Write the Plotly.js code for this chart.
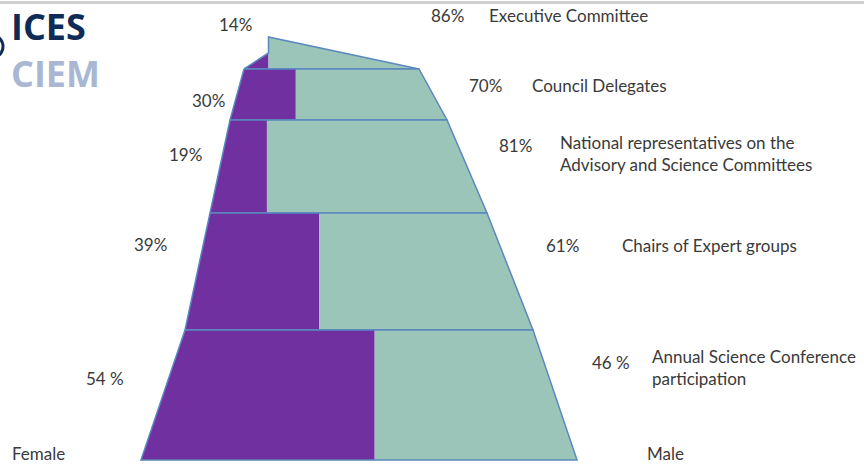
<!DOCTYPE html>
<html><head><meta charset="utf-8">
<script src="https://cdn.plot.ly/plotly-3.0.1.min.js"></script>
<style>html,body{margin:0;padding:0;background:#fff}#chart{width:864px;height:473px}</style>
</head><body><div id="chart"></div>
<script>
// ---- data ----
const categories = ['Executive Committee','Council Delegates','National representatives on the<br>Advisory and Science Committees','Chairs of Expert groups','Annual Science Conference<br>participation'];
const femalePct = [14, 30, 19, 39, 54];
const malePct = [86, 70, 81, 61, 46];
const femaleLabels = ['14%', '30%', '19%', '39%', '54 %'];
const maleLabels = ['86%', '70%', '81%', '61%', '46 %'];
const seriesNames = ['Female', 'Male'];

// ---- layout geometry (pixel-space axes) ----
const levelY = [69, 120, 213, 330, 460];      // band bottom boundaries
const leftX  = [244, 230, 210, 185, 141];     // outline left edge at each level
const rightX = [419, 447, 487, 533, 577];     // outline right edge at each level
const apexY = 37, apexLeftY = 53;
const femaleLblPos = [[235,24],[208,100],[185,154],[150,244],[105,378]];
const maleLblPos = [[447,15],[485,85],[515,145],[562,245],[611,362]];
const catLblPos = [[487,15],[530,85],[558,153],[620,245],[650,367]];

const PURPLE = '#7030A0', TEAL = '#9CC5B9', EDGE = '#5A88BE', TXT = '#3a3a3a';
const traces = [];
const annotations = [];
const FONT = 'Lato, "Open Sans", sans-serif';
const FS = 17;

// top band (tip)
{
  const L = leftX[0], R = rightX[0], y = levelY[0];
  const sx = L + femalePct[0] / 100 * (R - L);
  traces.push({x:[L,sx,sx,L], y:[y,apexLeftY,y,y], fill:'toself', fillcolor:PURPLE, mode:'lines', line:{width:0}, hoverinfo:'skip', name:seriesNames[0]});
  traces.push({x:[sx,sx,R,sx], y:[y,apexY,y,y], fill:'toself', fillcolor:TEAL, mode:'lines', line:{width:0}, hoverinfo:'skip', name:seriesNames[1]});
  traces.push({x:[L,sx,sx,R,L], y:[y,apexLeftY,apexY,y,y], mode:'lines', line:{color:EDGE,width:1.5}, hoverinfo:'skip'});
}
for (let i = 1; i < categories.length; i++) {
  const yt = levelY[i-1], yb = levelY[i];
  const lt = leftX[i-1], lb = leftX[i], rt = rightX[i-1], rb = rightX[i];
  const wMid = ((rt + rb) - (lt + lb)) / 2, lMid = (lt + lb) / 2;
  const sx = lMid + femalePct[i] / 100 * wMid;
  traces.push({x:[lt,sx,sx,lb,lt], y:[yt,yt,yb,yb,yt], fill:'toself', fillcolor:PURPLE, mode:'lines', line:{width:0}, hoverinfo:'skip'});
  traces.push({x:[sx,rt,rb,sx,sx], y:[yt,yt,yb,yb,yt], fill:'toself', fillcolor:TEAL, mode:'lines', line:{width:0}, hoverinfo:'skip'});
  traces.push({x:[lt,rt,rb,lb,lt], y:[yt,yt,yb,yb,yt], mode:'lines', line:{color:EDGE,width:1.5}, hoverinfo:'skip'});
}

for (let i = 0; i < categories.length; i++) {
  annotations.push({x:femaleLblPos[i][0], y:femaleLblPos[i][1], text:femaleLabels[i], showarrow:false, xanchor:'center', yanchor:'middle', font:{family:FONT,size:FS,color:TXT}});
  annotations.push({x:maleLblPos[i][0], y:maleLblPos[i][1], text:maleLabels[i], showarrow:false, xanchor:'center', yanchor:'middle', font:{family:FONT,size:FS,color:TXT}});
  annotations.push({x:catLblPos[i][0], y:catLblPos[i][1], text:categories[i], showarrow:false, xanchor:'left', yanchor:'middle', align:'left', font:{family:FONT,size:FS,color:TXT}});
}
annotations.push({x:10, y:453, text:seriesNames[0], showarrow:false, xanchor:'left', yanchor:'middle', font:{family:FONT,size:FS,color:TXT}});
annotations.push({x:645, y:453, text:seriesNames[1], showarrow:false, xanchor:'left', yanchor:'middle', font:{family:FONT,size:FS,color:TXT}});
// logo (single text block, two colours)
annotations.push({x:9, y:50, text:'<b><span style="color:#0E2C57">ICES</span><br><span style="color:#A9B7D2">CIEM</span></b>', showarrow:false, xanchor:'left', yanchor:'middle', align:'left', font:{family:'"Open Sans", sans-serif',size:36,color:'#0E2C57'}});

const layout = {
  width:864, height:473, margin:{l:0,r:0,t:0,b:0},
  paper_bgcolor:'#fff', plot_bgcolor:'#fff', showlegend:false,
  xaxis:{range:[0,864], visible:false, fixedrange:true},
  yaxis:{range:[473,0], visible:false, fixedrange:true},
  annotations,
  shapes:[
    {type:'line', xref:'paper', yref:'y', x0:0, x1:1, y0:2.5, y1:2.5, line:{color:'#cfcfcf', width:3}},
    {type:'circle', xref:'x', yref:'y', x0:-20, x1:3, y0:35, y1:58, line:{color:'#0E2C57', width:3}}
  ]
};
Plotly.newPlot('chart', traces, layout, {staticPlot:true, displayModeBar:false});
</script></body></html>
